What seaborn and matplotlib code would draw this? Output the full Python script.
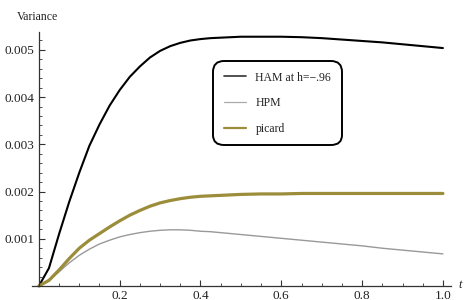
import numpy as np
import pandas as pd
import matplotlib
matplotlib.use("Agg")
import matplotlib.pyplot as plt
from matplotlib.ticker import MultipleLocator, FixedLocator, FuncFormatter
from matplotlib.lines import Line2D
import seaborn as sns

# ---- data (values x 1e-3) ----
t = [0, 0.025, 0.05, 0.075, 0.1, 0.125, 0.15, 0.175, 0.2, 0.225, 0.25, 0.275,
     0.3, 0.325, 0.35, 0.375, 0.4, 0.425, 0.45, 0.475, 0.5,
     0.55, 0.6, 0.65, 0.7, 0.75, 0.8, 0.85, 0.9, 0.95, 1.0]
ham = [0, 0.38, 1.10, 1.78, 2.40, 2.97, 3.42, 3.82, 4.15, 4.43, 4.65, 4.84,
       4.98, 5.08, 5.15, 5.20, 5.23, 5.25, 5.26, 5.27, 5.28,
       5.28, 5.28, 5.27, 5.25, 5.22, 5.19, 5.16, 5.12, 5.08, 5.04]
hpm = [0, 0.11, 0.30, 0.49, 0.65, 0.78, 0.89, 0.97, 1.04, 1.09, 1.13, 1.16,
       1.18, 1.19, 1.19, 1.18, 1.16, 1.15, 1.13, 1.11, 1.09,
       1.05, 1.01, 0.97, 0.93, 0.89, 0.85, 0.80, 0.76, 0.72, 0.68]
picard = [0, 0.12, 0.34, 0.58, 0.80, 0.97, 1.11, 1.25, 1.38, 1.50, 1.60, 1.69,
          1.76, 1.81, 1.85, 1.88, 1.90, 1.91, 1.92, 1.93, 1.94,
          1.95, 1.95, 1.96, 1.96, 1.96, 1.96, 1.96, 1.96, 1.96, 1.96]
labels = ["HAM at h=\u2212.96", "HPM", "picard"]
x_ticks = [0.2, 0.4, 0.6, 0.8, 1.0]
y_ticks = [0.001, 0.002, 0.003, 0.004, 0.005]

df = pd.DataFrame({
    "t": t * 3,
    "v": [v * 1e-3 for v in ham + hpm + picard],
    "series": [labels[0]] * len(t) + [labels[1]] * len(t) + [labels[2]] * len(t),
})

sns.set_theme(style="white")
plt.rcParams["font.family"] = ["Liberation Serif", "DejaVu Serif"]

colors = {labels[0]: "#000000", labels[1]: "#999999", labels[2]: "#9b8d3a"}
widths = {labels[0]: 1.5, labels[1]: 1.0, labels[2]: 2.3}

fig = plt.figure(figsize=(4.66, 3.0), dpi=100)
ax = fig.add_axes([32 / 466, 14 / 300, 419 / 466, 254 / 300])

for lab in labels:
    sub = df[df["series"] == lab]
    sns.lineplot(data=sub, x="t", y="v", ax=ax, color=colors[lab],
                 linewidth=widths[lab], legend=False, clip_on=False)

ax.set_xlim(-0.017, 1.02)
ax.set_ylim(0, 0.00538)
ax.set_xlabel("")
ax.set_ylabel("")

ax.spines["top"].set_visible(False)
ax.spines["right"].set_visible(False)
ax.spines["left"].set_position(("data", 0))
for s in ("left", "bottom"):
    ax.spines[s].set_color("#333333")
    ax.spines[s].set_linewidth(0.9)

ax.xaxis.set_major_locator(FixedLocator(x_ticks))
ax.xaxis.set_minor_locator(MultipleLocator(0.05))
ax.yaxis.set_major_locator(FixedLocator(y_ticks))
ax.yaxis.set_minor_locator(MultipleLocator(0.0002))
ax.xaxis.set_major_formatter(FuncFormatter(lambda v, p: f"{v:.1f}"))
ax.yaxis.set_major_formatter(FuncFormatter(lambda v, p: f"{v:.3f}"))
ax.tick_params(bottom=True, left=True, top=False, right=False, which="both")
ax.tick_params(axis="both", which="major", direction="in", length=4.5, width=0.8,
               color="#333333", labelsize=9.5, labelcolor="#222222")
ax.tick_params(axis="both", which="minor", direction="in", length=2.5, width=0.6,
               color="#333333")
ax.tick_params(axis="x", which="major", pad=3)
ax.tick_params(axis="y", which="major", pad=3)

fig.text(17 / 466, 1 - 17 / 300, "Variance", fontsize=8.5, color="#222222",
         va="center", ha="left")
fig.text(458 / 466, 1 - 285 / 300, "t", fontsize=9, style="italic",
         color="#222222", va="center", ha="left")

handles = [Line2D([], [], color="#333333", lw=1.2),
           Line2D([], [], color="#aaaaaa", lw=0.9),
           Line2D([], [], color="#9b8d3a", lw=1.6)]
leg = ax.legend(handles, labels, loc="upper left",
                bbox_to_anchor=((213 - 32) / 419, (286 - 61) / 254),
                fontsize=8.5, frameon=True, fancybox=True, framealpha=1,
                edgecolor="black", handlelength=1.9, handletextpad=0.8,
                labelspacing=1.15, borderpad=0.9, borderaxespad=0)
frame = leg.get_frame()
frame.set_linewidth(1.4)
frame.set_boxstyle("round,pad=0.0,rounding_size=0.9")
for txt in leg.get_texts():
    txt.set_color("#222222")

fig.savefig("out.png", dpi=100)
